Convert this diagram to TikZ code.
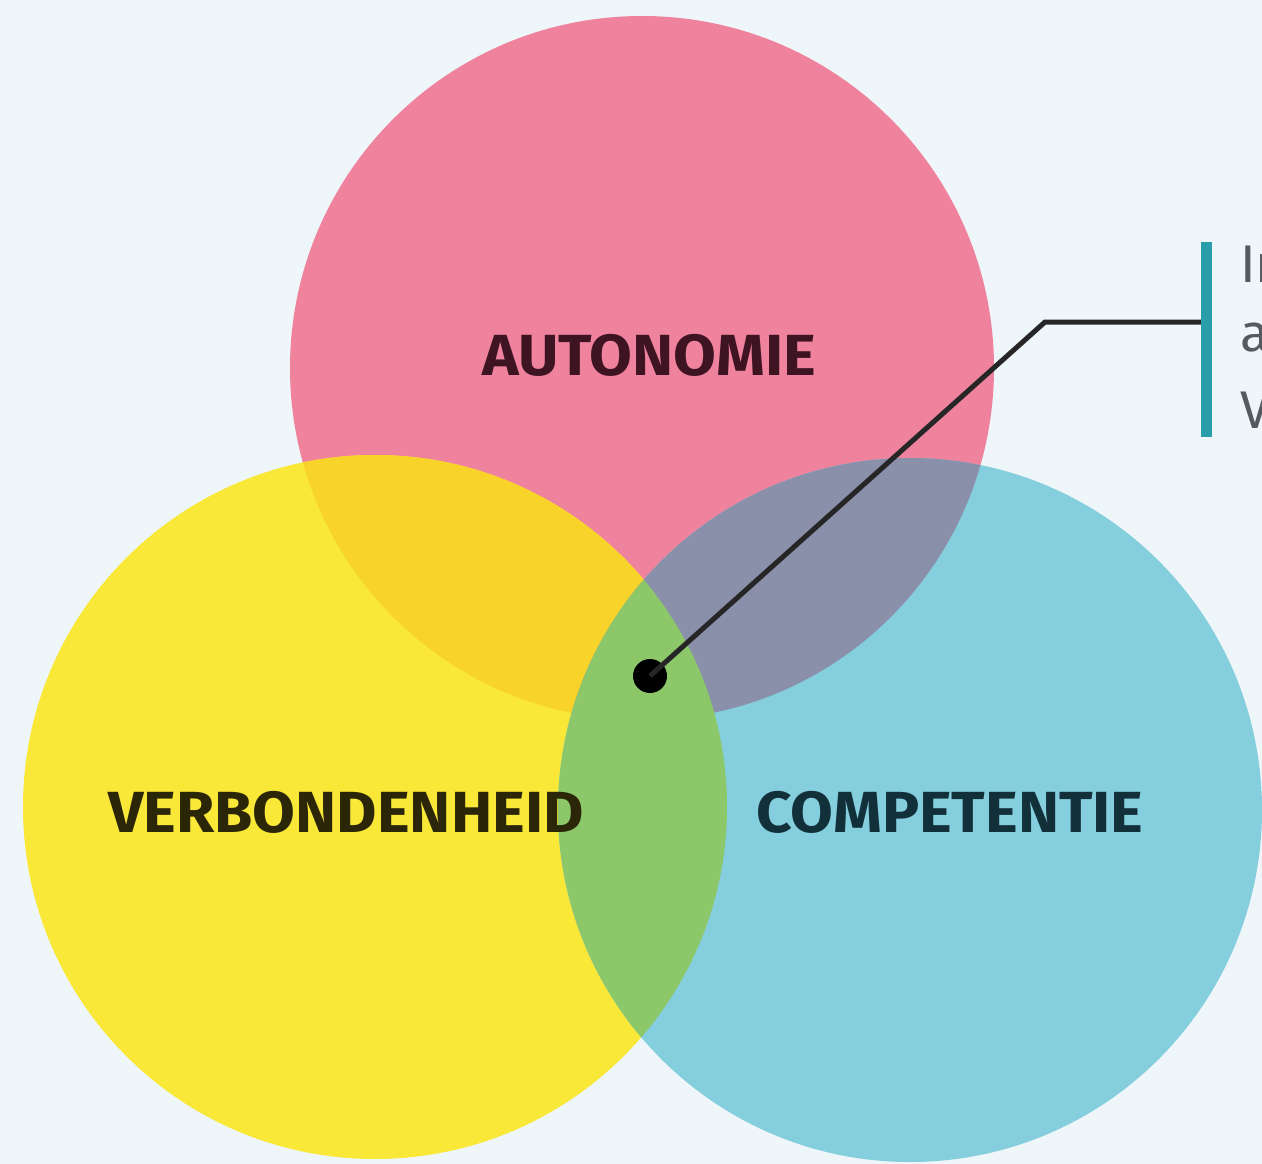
\documentclass[tikz,border=0pt]{standalone}
\usepackage{fontspec}
\setmainfont{Fira Sans}
\definecolor{bg}{HTML}{EEF6FA}
\definecolor{pinkc}{HTML}{EF829C}
\definecolor{yellowc}{HTML}{F9E838}
\definecolor{bluec}{HTML}{85CEDD}
\definecolor{goldc}{HTML}{F8D42A}
\definecolor{greyblue}{HTML}{8A90AA}
\definecolor{greenc}{HTML}{8CC76A}
\definecolor{tealbar}{HTML}{2A9DAA}
\definecolor{txtpink}{HTML}{3E1422}
\definecolor{txtyellow}{HTML}{2B2608}
\definecolor{txtblue}{HTML}{12303A}
\definecolor{sidetxt}{HTML}{555A5E}
\newcommand{\widetxt}[1]{\scalebox{1.07}[1]{#1}}
\begin{document}
\begin{tikzpicture}[x=1pt,y=-1pt,
  label/.style={font=\bfseries\fontsize{58}{66}\selectfont, inner sep=0pt},
  sidelabel/.style={font=\fontsize{53}{60}\selectfont, text=sidetxt, anchor=west, inner sep=0pt}]
\fill[bg] (0,0) rectangle (1262,1164);
\useasboundingbox (0,0) rectangle (1262,1164);
\coordinate (P) at (642,368);
\coordinate (Y) at (375,807);
\coordinate (B) at (910,810);
\def\R{352}
\fill[pinkc] (P) circle (\R);
\fill[yellowc] (Y) circle (\R);
\fill[bluec] (B) circle (\R);
\begin{scope}
  \clip (P) circle (\R);
  \fill[goldc] (Y) circle (\R);
  \fill[greyblue] (B) circle (\R);
\end{scope}
\begin{scope}
  \clip (Y) circle (\R);
  \fill[greenc] (B) circle (\R);
\end{scope}
\node[label, text=txtpink] (aut) at (649,355) {\widetxt{AUTONOMIE}};
\node[label, text=txtyellow] (ver) at (346,812) {\widetxt{VERBONDENHEID}};
\node[label, text=txtblue] (com) at (950,812) {\widetxt{COMPETENTIE}};
% leader
\node[circle, fill=black, inner sep=0pt, minimum size=34pt] (dot) at (650,676) {};
\coordinate (bend) at (1045,322);
\coordinate (barhit) at (1203,322);
\draw[line width=5pt, black!85] (dot.center) -- (bend) -- (barhit);
\coordinate (bartop) at (1206,242);
\coordinate (barbot) at (1206,437);
\draw[line width=11pt, tealbar] (bartop) -- (barbot);
\node[sidelabel] (s1) at (1240,264) {In};
\node[sidelabel] (s2) at (1240,338) {a};
\node[sidelabel] (s3) at (1240,410) {V};
\end{tikzpicture}
\end{document}
